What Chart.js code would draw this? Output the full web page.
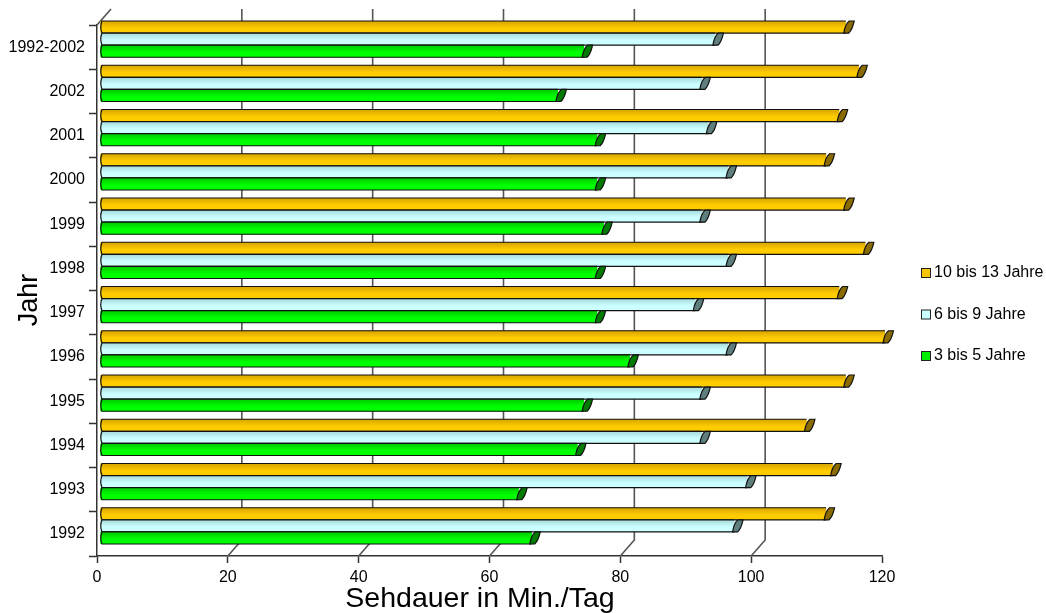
<!DOCTYPE html>
<html>
<head>
<meta charset="utf-8">
<script src="https://cdn.jsdelivr.net/npm/chart.js@4.4.1/dist/chart.umd.min.js"></script>
<style>
  html, body { margin: 0; padding: 0; background: #fff; overflow: hidden; }
  #wrap { width: 1046px; height: 613px; position: relative; }
</style>
</head>
<body>
<div id="wrap"><canvas id="c" width="1046" height="613"></canvas></div>
<script>
// Daily viewing time of children (minutes per day), by year and age group
const years = ['1992-2002', '2002', '2001', '2000', '1999', '1998', '1997', '1996', '1995', '1994', '1993', '1992'];
const age10to13 = [114, 116, 113, 111, 114, 117, 113, 120, 114, 108, 112, 111];
const age6to9   = [94, 92, 93, 96, 92, 96, 91, 96, 92, 92, 99, 97];
const age3to5   = [74, 70, 76, 76, 77, 76, 76, 81, 74, 73, 64, 66];
const seriesNames = ['10 bis 13 Jahre', '6 bis 9 Jahre', '3 bis 5 Jahre'];
const xTicks = [0, 20, 40, 60, 80, 100, 120];
const xTitle = 'Sehdauer in Min./Tag';
const yTitle = 'Jahr';

// ---- styling ----
const FONT = '"Liberation Sans", Arial, Helvetica, sans-serif';
const AXIS_COLOR = '#333';
const WALL_COLOR = '#555';
const DEPTH = { x: 14, y: -16 };      // offset of the back wall
const BAR_SHIFT = { x: 3, y: -8 };    // bars sit halfway into the depth
const palette = [
  { top: '#d6a400', bottom: '#ffcc00', cap: '#8a6b00', swatch: '#f7c600' },
  { top: '#a6dada', bottom: '#ccffff', cap: '#5f7e7e', swatch: '#ccffff' },
  { top: '#00c800', bottom: '#00ff00', cap: '#007a00', swatch: '#00ee00' }
];

// Back wall, pseudo-3D bars and the free-standing texts
const pseudo3d = {
  id: 'pseudo3d',
  beforeDatasetsDraw(chart) {
    const { ctx, chartArea: a, scales: { x } } = chart;
    ctx.save();
    ctx.strokeStyle = WALL_COLOR;
    ctx.lineWidth = 1.6;
    // top-left edge of the wall
    ctx.beginPath();
    ctx.moveTo(a.left, a.top);
    ctx.lineTo(a.left + DEPTH.x, a.top + DEPTH.y);
    ctx.stroke();
    // gridlines on the back wall, joined to the front axis ticks
    xTicks.forEach(v => {
      if (v === xTicks[0] || v === xTicks[xTicks.length - 1]) return;
      const px = x.getPixelForValue(v);
      ctx.beginPath();
      ctx.moveTo(px, a.bottom);
      ctx.lineTo(px + DEPTH.x, a.bottom + DEPTH.y);
      ctx.lineTo(px + DEPTH.x, a.top + DEPTH.y);
      ctx.stroke();
    });
    ctx.restore();
    ctx.save();
    ctx.translate(BAR_SHIFT.x, BAR_SHIFT.y);
  },
  afterDatasetsDraw(chart) {
    const { ctx } = chart;
    chart.data.datasets.forEach((ds, i) => {
      const meta = chart.getDatasetMeta(i);
      const c = palette[i];
      meta.data.forEach(el => {
        const { x: xe, y, base, height } = el.getProps(['x', 'y', 'base', 'height'], true);
        const top = y - height / 2, bot = y + height / 2;
        // shaded face
        const g = ctx.createLinearGradient(0, top, 0, bot);
        g.addColorStop(0, c.top);
        g.addColorStop(0.6, c.bottom);
        g.addColorStop(1, c.bottom);
        ctx.fillStyle = g;
        ctx.fillRect(base, top, xe - base, height);
        ctx.strokeStyle = '#111';
        ctx.lineWidth = 1.2;
        ctx.beginPath();
        ctx.moveTo(xe, top);
        ctx.lineTo(base + 1.5, top);
        ctx.quadraticCurveTo(base - 1, y, base + 1.5, bot);
        ctx.lineTo(xe, bot);
        ctx.stroke();
        // end cap
        ctx.beginPath();
        ctx.moveTo(xe - 2, bot);
        ctx.quadraticCurveTo(xe - 0.5, top + 3, xe + 3.5, top);
        ctx.lineTo(xe + 8.5, top);
        ctx.quadraticCurveTo(xe + 6.5, bot - 3, xe + 3, bot);
        ctx.closePath();
        ctx.fillStyle = c.cap;
        ctx.fill();
        ctx.stroke();
      });
    });
    ctx.restore();
  },
  afterDraw(chart) {
    const { ctx } = chart;
    ctx.save();
    ctx.fillStyle = '#000';
    // axis titles
    ctx.font = '28.5px ' + FONT;
    ctx.textAlign = 'center';
    ctx.textBaseline = 'alphabetic';
    ctx.fillText(xTitle, 480, 607);
    ctx.save();
    ctx.translate(37, 300);
    ctx.rotate(-Math.PI / 2);
    ctx.font = '27px ' + FONT;
    ctx.fillText(yTitle, 0, 0);
    ctx.restore();
    // legend
    ctx.font = '16px ' + FONT;
    ctx.textAlign = 'left';
    ctx.textBaseline = 'middle';
    chart.data.datasets.forEach((ds, i) => {
      const cy = 273 + i * 41.5;
      ctx.fillStyle = palette[i].swatch;
      ctx.fillRect(921.5, cy - 4.5, 9, 9);
      ctx.strokeStyle = '#222';
      ctx.lineWidth = 1;
      ctx.strokeRect(921.5, cy - 4.5, 9, 9);
      ctx.fillStyle = '#000';
      ctx.fillText(ds.label, 934, cy);
    });
    ctx.restore();
  }
};

const seriesValues = [age10to13, age6to9, age3to5];

new Chart(document.getElementById('c'), {
  type: 'bar',
  data: {
    labels: years,
    datasets: seriesValues.map((vals, i) => ({
      label: seriesNames[i],
      data: vals,
      backgroundColor: palette[i].bottom,
      borderColor: '#1a1a1a',
      borderWidth: 0,
      borderSkipped: false,
      categoryPercentage: 0.82,
      barPercentage: 1.0,
      clip: false
    }))
  },
  options: {
    indexAxis: 'y',
    responsive: false,
    animation: false,
    events: [],
    layout: { padding: { top: 25, right: 164, left: 0, bottom: 0 } },
    plugins: { legend: { display: false }, tooltip: { enabled: false } },
    scales: {
      x: {
        min: 0, max: 120,
        afterBuildTicks(s) { s.ticks = xTicks.map(v => ({ value: v })); },
        ticks: { font: { family: FONT, size: 16 }, color: '#000', padding: 5, maxRotation: 0 },
        grid: { drawOnChartArea: false, tickLength: 7, color: AXIS_COLOR, tickWidth: 1.5 },
        border: { color: AXIS_COLOR, width: 1.5 },
        afterFit(s) { s.height = 57; }
      },
      y: {
        ticks: { font: { family: FONT, size: 16 }, color: '#000', padding: 4, autoSkip: false },
        grid: { drawOnChartArea: false, offset: true, tickLength: 8, color: AXIS_COLOR, tickWidth: 1.5 },
        border: { color: AXIS_COLOR, width: 1.5 },
        afterFit(s) { s.width = 97; }
      }
    }
  },
  plugins: [pseudo3d]
});
</script>
</body>
</html>
